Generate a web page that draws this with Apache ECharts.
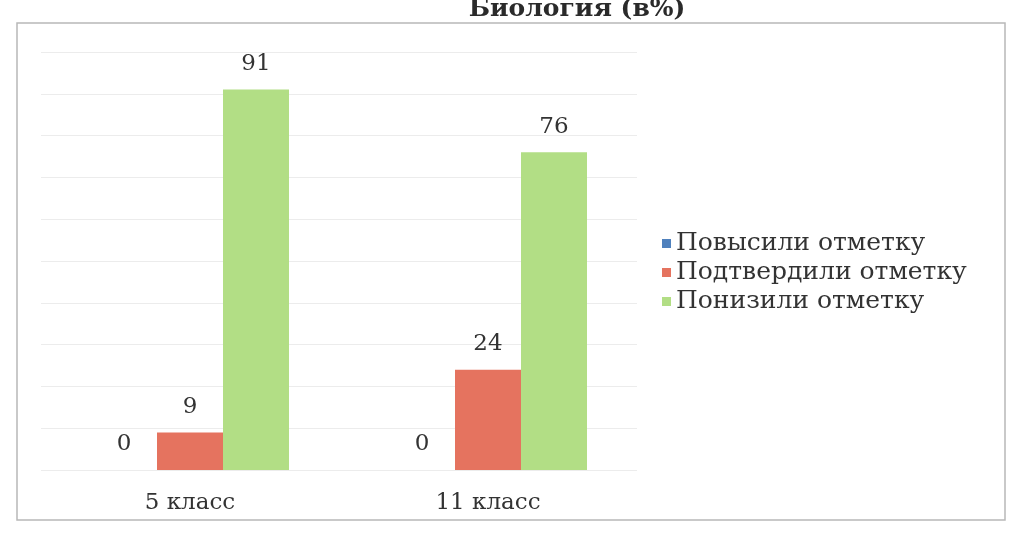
<!DOCTYPE html>
<html>
<head>
<meta charset="utf-8">
<script src="https://cdn.jsdelivr.net/npm/echarts@6/dist/echarts.min.js"></script>
<style>
html,body{margin:0;padding:0;background:#fff;}
#c{width:1021px;height:545px;}
</style>
</head>
<body>
<div id="c"></div>
<script>
const titleText = 'Биология (в%)';
const categories = ['5 класс', '11 класс'];
const seriesNames = ['Повысили отметку', 'Подтвердили отметку', 'Понизили отметку'];
const raised = [0, 0];
const confirmed = [9, 24];
const lowered = [91, 76];
const colors = ['#4f81bd', '#e5735f', '#b2de85'];

const serif = '"DejaVu Serif", "Liberation Serif", serif';
const chart = echarts.init(document.getElementById('c'));
const values = [raised, confirmed, lowered];

chart.setOption({
  animation: false,
  backgroundColor: '#fff',
  color: colors,
  graphic: [
    { type: 'rect', z: -1, shape: { x: 17, y: 23, width: 988, height: 497 },
      style: { fill: 'none', stroke: '#b8b8b8', lineWidth: 1.5 } },
    { type: 'text', z: 10,
      style: { text: titleText, x: 577, y: 9, textAlign: 'center', textVerticalAlign: 'middle',
               font: 'bold 25px ' + serif, fill: '#2a2a2a' } }
  ],
  grid: { left: 41, right: 384, top: 52, bottom: 75 },
  legend: {
    orient: 'vertical', left: 657, top: 226,
    itemWidth: 9, itemHeight: 9, itemGap: 4,
    icon: 'rect',
    textStyle: { fontFamily: serif, fontSize: 25, color: '#333' },
    data: seriesNames
  },
  xAxis: {
    type: 'category', data: categories,
    axisLine: { show: false }, axisTick: { show: false },
    axisLabel: { fontFamily: serif, fontSize: 23, color: '#333', margin: 22 }
  },
  yAxis: {
    type: 'value', min: 0, max: 100, interval: 10,
    axisLabel: { show: false }, axisLine: { show: false }, axisTick: { show: false },
    splitLine: { lineStyle: { color: '#ececec', width: 1 } }
  },
  series: seriesNames.map((n, i) => ({
    name: n, type: 'bar', data: values[i],
    barWidth: 66, barGap: '0%',
    itemStyle: { color: colors[i] },
    label: { show: true, position: 'top', distance: 14,
             fontFamily: serif, fontSize: 23, color: '#333' }
  }))
});
</script>
</body>
</html>
